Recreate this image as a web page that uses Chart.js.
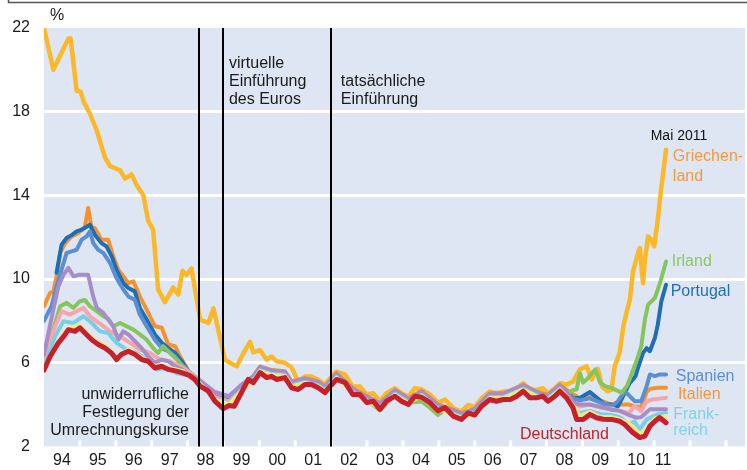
<!DOCTYPE html>
<html>
<head>
<meta charset="utf-8">
<script src="https://cdn.jsdelivr.net/npm/chart.js@4/dist/chart.umd.min.js"></script>
<style>
  body { margin: 0; background: #fff; }
  canvas { display: block; }
</style>
</head>
<body>
<canvas id="zinsen" width="747" height="470"></canvas>
<script>
// Rendite langfristiger Staatsanleihen in %, [Jahr, Wert]
const jahresLabels = ['94','95','96','97','98','99','00','01','02','03','04','05','06','07','08','09','10','11'];
const labelPos = [1994.5,1995.5,1996.5,1997.5,1998.5,1999.5,2000.5,2001.5,2002.5,2003.5,2004.5,2005.5,2006.5,2007.5,2008.5,2009.5,2010.5,2011.25];
const yTicks = [2, 6, 10, 14, 18, 22];
const ereignisse = [1998.33, 1999.0, 2002.0];

const deutschland = [[1994.0,5.65],[1994.17,6.3],[1994.4,6.95],[1994.55,7.26],[1994.68,7.58],[1994.86,7.5],[1995.0,7.67],[1995.14,7.42],[1995.33,7.1],[1995.51,6.87],[1995.7,6.7],[1995.88,6.47],[1996.02,6.15],[1996.16,6.4],[1996.35,6.55],[1996.53,6.4],[1996.72,6.15],[1996.9,6.07],[1997.09,5.75],[1997.28,5.83],[1997.46,5.68],[1997.7,5.6],[1997.88,5.5],[1998.05,5.4],[1998.2,5.2],[1998.35,4.88],[1998.58,4.64],[1998.76,4.16],[1998.99,3.8],[1999.15,3.95],[1999.3,3.92],[1999.5,4.57],[1999.69,5.2],[1999.83,5.05],[2000.02,5.53],[2000.2,5.29],[2000.34,5.35],[2000.48,5.2],[2000.71,5.29],[2000.9,4.8],[2001.08,4.72],[2001.27,4.96],[2001.45,4.96],[2001.64,4.8],[2001.83,4.57],[2001.97,4.88],[2002.15,5.2],[2002.39,5.05],[2002.6,4.48],[2002.8,4.48],[2002.99,4.1],[2003.17,4.16],[2003.36,3.77],[2003.54,4.16],[2003.78,4.4],[2003.96,4.16],[2004.15,4.0],[2004.33,4.4],[2004.52,4.35],[2004.75,4.1],[2004.98,3.7],[2005.17,3.86],[2005.4,3.45],[2005.63,3.29],[2005.82,3.6],[2006.0,3.5],[2006.19,3.92],[2006.42,4.24],[2006.6,4.16],[2006.8,4.24],[2006.99,4.24],[2007.17,4.4],[2007.35,4.64],[2007.54,4.32],[2007.72,4.32],[2007.9,4.4],[2008.04,4.16],[2008.23,4.4],[2008.37,4.64],[2008.56,4.32],[2008.74,3.84],[2008.84,3.29],[2009.02,3.29],[2009.21,3.53],[2009.39,3.37],[2009.58,3.3],[2009.81,3.29],[2010.04,3.2],[2010.18,3.05],[2010.4,2.67],[2010.6,2.42],[2010.74,2.49],[2010.88,2.97],[2011.02,3.2],[2011.15,3.38],[2011.33,3.13]];

const griechenland = [[1994.0,22.0],[1994.26,20.0],[1994.68,21.5],[1994.74,21.5],[1994.91,19.0],[1995.02,18.96],[1995.1,18.5],[1995.28,17.9],[1995.47,17.1],[1995.7,15.8],[1995.84,15.4],[1996.12,15.2],[1996.26,14.8],[1996.44,15.0],[1996.58,14.5],[1996.77,14.0],[1996.9,12.8],[1997.04,12.36],[1997.18,9.5],[1997.37,8.9],[1997.6,9.6],[1997.74,9.26],[1997.86,10.4],[1997.97,10.2],[1998.11,10.5],[1998.35,8.06],[1998.58,7.9],[1998.72,8.6],[1999.04,6.15],[1999.18,6.0],[1999.37,5.83],[1999.6,6.6],[1999.74,7.0],[1999.83,6.5],[2000.02,6.6],[2000.2,6.15],[2000.34,6.3],[2000.48,6.07],[2000.71,6.0],[2000.9,5.77],[2000.99,5.44],[2001.08,5.1],[2001.27,5.34],[2001.45,5.34],[2001.64,5.18],[2001.83,4.95],[2001.97,5.26],[2002.15,5.58],[2002.39,5.43],[2002.6,4.86],[2002.8,4.86],[2002.99,4.48],[2003.17,4.54],[2003.36,4.15],[2003.54,4.54],[2003.78,4.78],[2003.96,4.54],[2004.15,4.38],[2004.33,4.78],[2004.52,4.73],[2004.75,4.48],[2004.98,4.08],[2005.17,4.24],[2005.4,3.83],[2005.63,3.67],[2005.82,3.98],[2006.0,3.88],[2006.19,4.3],[2006.42,4.62],[2006.6,4.54],[2006.8,4.62],[2006.99,4.62],[2007.17,4.78],[2007.35,5.02],[2007.54,4.7],[2007.72,4.7],[2007.9,4.78],[2008.04,4.54],[2008.23,4.78],[2008.37,5.02],[2008.56,4.96],[2008.74,5.1],[2008.93,5.68],[2009.12,5.83],[2009.26,5.2],[2009.36,5.55],[2009.43,5.7],[2009.55,4.85],[2009.7,4.64],[2009.81,4.7],[2009.9,5.83],[2010.04,6.5],[2010.14,7.74],[2010.23,8.4],[2010.32,9.0],[2010.41,10.37],[2010.55,11.25],[2010.6,11.48],[2010.69,9.8],[2010.74,10.9],[2010.83,12.04],[2010.92,11.88],[2011.0,11.56],[2011.1,12.84],[2011.2,14.4],[2011.33,16.18]];

const italien = [[1994.0,8.7],[1994.17,9.34],[1994.26,9.4],[1994.35,10.13],[1994.45,11.25],[1994.59,11.72],[1994.77,12.04],[1994.96,12.2],[1995.14,12.5],[1995.23,13.4],[1995.32,12.5],[1995.42,12.43],[1995.6,11.88],[1995.79,11.88],[1995.93,11.08],[1996.07,10.45],[1996.21,10.13],[1996.35,9.8],[1996.49,9.89],[1996.67,9.17],[1996.86,8.54],[1997.09,7.74],[1997.28,7.67],[1997.46,6.87],[1997.65,6.79],[1997.84,6.15],[1998.02,5.6],[1998.35,5.15],[1998.76,4.46],[1999.15,4.25],[1999.5,4.87],[1999.83,5.35],[2000.02,5.83],[2000.34,5.65],[2000.71,5.59],[2000.9,5.1],[2001.27,5.26],[2001.64,5.1],[2001.83,4.87],[2002.15,5.5],[2002.6,4.78],[2002.99,4.4],[2003.36,4.07],[2003.78,4.7],[2004.15,4.3],[2004.52,4.65],[2004.98,4.0],[2005.4,3.75],[2005.63,3.59],[2006.0,3.8],[2006.42,4.54],[2006.8,4.54],[2007.35,4.94],[2007.72,4.62],[2008.04,4.46],[2008.37,4.94],[2008.56,4.7],[2008.74,4.5],[2008.93,4.3],[2009.21,4.4],[2009.49,4.2],[2009.81,4.0],[2010.04,4.0],[2010.3,4.0],[2010.45,3.9],[2010.64,3.9],[2010.79,4.6],[2010.88,4.75],[2011.1,4.8],[2011.33,4.8]];

const portugal = [[1994.35,10.3],[1994.49,11.64],[1994.63,11.96],[1994.77,12.1],[1994.91,12.28],[1995.05,12.36],[1995.19,12.5],[1995.28,12.6],[1995.42,12.1],[1995.6,11.72],[1995.74,11.56],[1995.89,11.08],[1996.02,10.45],[1996.21,9.8],[1996.35,9.57],[1996.53,9.41],[1996.67,8.62],[1996.86,8.06],[1997.09,7.35],[1997.28,6.95],[1997.46,6.7],[1997.65,6.47],[1997.84,6.07],[1998.02,5.6],[1998.25,5.23],[1998.53,4.8],[1998.76,4.38],[1999.15,4.17],[1999.5,4.79],[1999.83,5.27],[2000.02,5.75],[2000.34,5.57],[2000.71,5.51],[2000.9,5.02],[2001.27,5.18],[2001.64,5.02],[2001.83,4.79],[2002.15,5.42],[2002.6,4.7],[2002.99,4.32],[2003.36,3.99],[2003.78,4.62],[2004.15,4.22],[2004.52,4.57],[2004.98,3.92],[2005.4,3.67],[2005.63,3.51],[2006.0,3.72],[2006.42,4.46],[2006.8,4.46],[2007.35,4.86],[2007.72,4.54],[2008.04,4.38],[2008.37,4.86],[2008.56,4.6],[2008.74,4.3],[2008.93,4.32],[2009.21,4.6],[2009.49,4.2],[2009.63,4.0],[2009.81,4.0],[2009.99,3.92],[2010.18,4.56],[2010.32,5.04],[2010.41,5.2],[2010.48,5.36],[2010.55,5.76],[2010.69,6.47],[2010.79,6.7],[2010.88,6.55],[2011.02,7.19],[2011.1,7.82],[2011.2,8.94],[2011.33,9.73]];

const spanien = [[1994.0,8.0],[1994.21,8.7],[1994.35,9.65],[1994.49,10.45],[1994.63,11.25],[1994.77,11.32],[1994.91,11.4],[1995.05,11.88],[1995.19,12.04],[1995.28,12.28],[1995.37,11.72],[1995.51,11.4],[1995.65,11.25],[1995.84,10.77],[1996.02,10.05],[1996.21,9.5],[1996.35,9.17],[1996.53,9.0],[1996.67,8.3],[1996.86,7.74],[1997.09,7.1],[1997.28,6.7],[1997.46,6.55],[1997.65,6.3],[1997.84,5.9],[1998.02,5.45],[1998.35,5.06],[1998.76,4.34],[1999.15,4.13],[1999.5,4.75],[1999.83,5.23],[2000.02,5.71],[2000.34,5.53],[2000.71,5.47],[2000.9,4.98],[2001.27,5.14],[2001.64,4.98],[2001.83,4.75],[2002.15,5.38],[2002.6,4.66],[2002.99,4.28],[2003.36,3.95],[2003.78,4.58],[2004.15,4.18],[2004.52,4.53],[2004.98,3.88],[2005.4,3.63],[2005.63,3.47],[2006.0,3.68],[2006.42,4.42],[2006.8,4.42],[2007.35,4.82],[2007.72,4.5],[2008.04,4.34],[2008.37,4.82],[2008.56,4.55],[2008.74,4.3],[2008.93,4.2],[2009.21,4.3],[2009.49,4.1],[2009.81,3.92],[2009.99,4.16],[2010.18,4.64],[2010.32,4.4],[2010.46,4.16],[2010.64,4.16],[2010.79,4.88],[2010.88,5.44],[2011.02,5.36],[2011.16,5.44],[2011.33,5.44]];

const irland = [[1994.0,6.3],[1994.17,7.1],[1994.45,8.7],[1994.63,8.86],[1994.82,8.62],[1995.0,8.94],[1995.14,9.0],[1995.28,8.7],[1995.47,8.46],[1995.65,8.22],[1995.79,8.1],[1995.93,7.74],[1996.12,7.9],[1996.3,7.74],[1996.49,7.58],[1996.67,7.35],[1996.86,7.1],[1997.04,6.7],[1997.18,6.47],[1997.32,6.79],[1997.51,6.47],[1997.7,6.15],[1997.88,5.83],[1998.05,5.55],[1998.35,5.08],[1998.76,4.28],[1999.15,4.07],[1999.5,4.69],[1999.83,5.17],[2000.02,5.65],[2000.34,5.47],[2000.71,5.41],[2000.9,4.92],[2001.27,5.08],[2001.64,4.92],[2001.83,4.69],[2002.15,5.32],[2002.6,4.6],[2002.99,4.22],[2003.36,3.72],[2003.78,4.5],[2004.15,4.1],[2004.52,4.15],[2004.75,3.85],[2004.98,3.5],[2005.17,3.75],[2005.4,3.45],[2005.63,3.38],[2006.0,3.6],[2006.42,4.35],[2006.8,4.35],[2007.35,4.76],[2007.72,4.44],[2008.04,4.28],[2008.37,4.76],[2008.56,4.5],[2008.74,4.7],[2008.84,4.72],[2008.93,5.5],[2009.02,5.05],[2009.12,5.2],[2009.36,5.68],[2009.49,5.05],[2009.63,4.88],[2009.81,4.8],[2010.09,4.57],[2010.25,4.9],[2010.4,5.6],[2010.55,6.3],[2010.64,6.79],[2010.74,8.06],[2010.83,8.78],[2011.02,9.1],[2011.16,9.8],[2011.33,10.84]];

const belgien = [[1994.0,6.2],[1994.31,7.74],[1994.49,8.46],[1994.72,8.3],[1994.91,8.46],[1995.1,8.62],[1995.28,8.22],[1995.47,7.98],[1995.6,7.82],[1995.84,7.5],[1996.12,7.26],[1996.4,6.95],[1996.67,6.63],[1996.95,6.47],[1997.23,6.15],[1997.51,6.07],[1997.79,5.83],[1998.05,5.55],[1998.35,5.1],[1998.76,4.36],[1999.15,4.15],[1999.5,4.77],[1999.83,5.25],[2000.02,5.73],[2000.34,5.55],[2000.71,5.49],[2000.9,5.0],[2001.27,5.16],[2001.64,5.0],[2001.83,4.77],[2002.15,5.4],[2002.6,4.68],[2002.99,4.3],[2003.36,3.97],[2003.78,4.6],[2004.15,4.2],[2004.52,4.55],[2004.98,3.9],[2005.4,3.65],[2005.63,3.49],[2006.0,3.7],[2006.42,4.44],[2006.8,4.44],[2007.35,4.84],[2007.72,4.52],[2008.04,4.36],[2008.37,4.84],[2008.56,4.52],[2008.74,4.1],[2008.93,3.9],[2009.21,4.0],[2009.49,3.85],[2009.81,3.8],[2010.04,3.7],[2010.3,3.6],[2010.45,3.92],[2010.64,3.69],[2010.79,4.16],[2010.95,4.24],[2011.33,4.32]];

const finnland = [[1994.0,6.4],[1994.26,8.54],[1994.4,9.65],[1994.54,10.2],[1994.68,10.53],[1994.82,10.13],[1994.96,10.2],[1995.23,10.2],[1995.37,9.17],[1995.47,8.62],[1995.65,8.38],[1995.79,8.06],[1995.93,7.74],[1996.07,7.1],[1996.21,7.5],[1996.35,7.35],[1996.53,7.03],[1996.72,6.7],[1996.9,6.3],[1997.09,6.0],[1997.28,6.15],[1997.46,6.07],[1997.65,5.83],[1997.84,5.68],[1998.02,5.44],[1998.35,5.15],[1998.76,4.6],[1999.15,4.4],[1999.5,4.95],[1999.83,5.35],[2000.02,5.8],[2000.34,5.63],[2000.71,5.57],[2000.9,5.08],[2001.27,5.24],[2001.64,5.08],[2001.83,4.85],[2002.15,5.48],[2002.6,4.76],[2002.99,4.38],[2003.36,4.05],[2003.78,4.68],[2004.15,4.28],[2004.52,4.63],[2004.98,3.98],[2005.4,3.73],[2005.63,3.57],[2006.0,3.78],[2006.42,4.52],[2006.8,4.52],[2007.35,4.92],[2007.72,4.6],[2008.04,4.44],[2008.37,4.92],[2008.56,4.6],[2008.74,4.1],[2008.93,4.0],[2009.21,4.0],[2009.49,3.9],[2009.81,3.75],[2010.04,3.7],[2010.3,3.5],[2010.5,3.37],[2010.64,3.4],[2010.88,3.77],[2011.33,3.77]];

const frankreich = [[1994.0,5.8],[1994.31,7.26],[1994.54,7.98],[1994.82,7.9],[1995.1,8.22],[1995.33,7.9],[1995.56,7.5],[1995.79,7.42],[1996.02,6.95],[1996.3,6.63],[1996.58,6.47],[1996.86,6.15],[1997.14,5.68],[1997.42,5.75],[1997.7,5.5],[1998.0,5.4],[1998.35,5.0],[1998.76,4.28],[1999.15,4.07],[1999.5,4.69],[1999.83,5.17],[2000.02,5.65],[2000.34,5.47],[2000.71,5.41],[2000.9,4.92],[2001.27,5.08],[2001.64,4.92],[2001.83,4.69],[2002.15,5.32],[2002.6,4.6],[2002.99,4.22],[2003.36,3.89],[2003.78,4.52],[2004.15,4.12],[2004.52,4.47],[2004.98,3.82],[2005.4,3.57],[2005.63,3.41],[2006.0,3.62],[2006.42,4.36],[2006.8,4.36],[2007.35,4.76],[2007.72,4.44],[2008.04,4.28],[2008.37,4.76],[2008.56,4.4],[2008.74,3.8],[2008.93,3.6],[2009.21,3.7],[2009.49,3.55],[2009.81,3.5],[2010.04,3.4],[2010.3,3.05],[2010.45,3.2],[2010.6,2.8],[2010.79,3.29],[2011.1,3.53],[2011.33,3.6]];

const niederlande = [[1994.0,5.75],[1994.4,7.05],[1994.68,7.68],[1995.0,7.77],[1995.33,7.2],[1995.7,6.8],[1996.02,6.25],[1996.35,6.65],[1996.72,6.25],[1997.09,5.85],[1997.46,5.78],[1997.88,5.6],[1998.35,4.98],[1998.76,4.23],[1999.15,4.02],[1999.5,4.64],[1999.83,5.12],[2000.02,5.6],[2000.34,5.42],[2000.71,5.36],[2000.9,4.87],[2001.27,5.03],[2001.64,4.87],[2001.83,4.64],[2002.15,5.27],[2002.6,4.55],[2002.99,4.17],[2003.36,3.84],[2003.78,4.47],[2004.15,4.07],[2004.52,4.42],[2004.98,3.77],[2005.4,3.52],[2005.63,3.36],[2006.0,3.57],[2006.42,4.31],[2006.8,4.31],[2007.35,4.71],[2007.72,4.39],[2008.04,4.23],[2008.37,4.71],[2008.56,4.38],[2008.74,3.95],[2008.93,3.45],[2009.21,3.65],[2009.49,3.4],[2009.81,3.4],[2010.04,3.3],[2010.3,3.1],[2010.6,2.6],[2010.79,2.85],[2011.02,3.35],[2011.33,3.45]];

// Reihenfolge: erster Datensatz liegt oben
const reihen = [
  { name: 'Deutschland', werte: deutschland, farbe: '#c5202b', breite: 5 },
  { name: 'Niederlande', werte: niederlande, farbe: '#f1e88a', breite: 4 },
  { name: 'Frankreich', werte: frankreich, farbe: '#78d0e3', breite: 4 },
  { name: 'Finnland', werte: finnland, farbe: '#a68dc7', breite: 4 },
  { name: 'Belgien', werte: belgien, farbe: '#f5a5ab', breite: 4 },
  { name: 'Irland', werte: irland, farbe: '#86c55c', breite: 4 },
  { name: 'Spanien', werte: spanien, farbe: '#5b8fd0', breite: 4 },
  { name: 'Portugal', werte: portugal, farbe: '#1f6eb5', breite: 4 },
  { name: 'Italien', werte: italien, farbe: '#f5922f', breite: 4 },
  { name: 'Griechenland', werte: griechenland, farbe: '#fbb829', breite: 4.5 }
];

const texte = [
  { zeilen: ['%'], x: 1994.17, y: 22.6, farbe: '#1a1a1a', align: 'left', abstand: 18, groesse: 16 },
  { zeilen: ['virtuelle', 'Einführung', 'des Euros'], x: 1999.153, y: 20.28, farbe: '#1a1a1a', align: 'left', abstand: 18, groesse: 16 },
  { zeilen: ['tatsächliche', 'Einführung'], x: 2002.27, y: 19.44, farbe: '#1a1a1a', align: 'left', abstand: 18, groesse: 16 },
  { zeilen: ['unwiderrufliche', 'Festlegung der', 'Umrechnungskurse'], x: 1998.04, y: 4.48, farbe: '#1a1a1a', align: 'right', abstand: 18, groesse: 16 },
  { zeilen: ['Mai 2011'], x: 2011.69, y: 16.85, farbe: '#111', align: 'center', abstand: 16, groesse: 14 },
  { zeilen: ['Griechen-', 'land'], x: 2011.52, y: 15.84, farbe: '#f39a3d', align: 'left', abstand: 20, groesse: 16 },
  { zeilen: ['Irland'], x: 2011.49, y: 10.83, farbe: '#8cc864', align: 'left', abstand: 16, groesse: 16 },
  { zeilen: ['Portugal'], x: 2011.46, y: 9.4, farbe: '#1d70b7', align: 'left', abstand: 16, groesse: 16 },
  { zeilen: ['Spanien'], x: 2011.6, y: 5.34, farbe: '#5b8fd0', align: 'left', abstand: 16, groesse: 16 },
  { zeilen: ['Italien'], x: 2011.66, y: 4.5, farbe: '#f6953a', align: 'left', abstand: 16, groesse: 16 },
  { zeilen: ['Frank-', 'reich'], x: 2011.53, y: 3.53, farbe: '#7fd3e6', align: 'left', abstand: 16, groesse: 16 },
  { zeilen: ['Deutschland'], x: 2007.26, y: 2.57, farbe: '#c42128', align: 'left', abstand: 16, groesse: 16 }
];

const schrift = '"Liberation Sans", Arial, sans-serif';

const deko = {
  id: 'deko',
  beforeDraw(chart) {
    const { ctx, chartArea: a } = chart;
    ctx.save();
    ctx.fillStyle = '#dfe6f3';
    ctx.fillRect(a.left, a.top, a.right - a.left, a.bottom - a.top);
    ctx.restore();
  },
  beforeDatasetsDraw(chart) {
    const { ctx, chartArea: a, scales: { x } } = chart;
    ctx.save();
    ctx.strokeStyle = '#fff';
    ctx.lineWidth = 3;
    for (let j = 1995; j <= 2013; j++) {
      const px = x.getPixelForValue(j);
      ctx.beginPath();
      ctx.moveTo(px, a.bottom);
      ctx.lineTo(px, a.bottom - 6);
      ctx.stroke();
    }
    ctx.restore();
  },
  afterDatasetsDraw(chart) {
    const { ctx, chartArea: a, scales: { x, y } } = chart;
    ctx.save();
    ctx.strokeStyle = '#000';
    ctx.lineWidth = 2;
    ereignisse.forEach(t => {
      const px = Math.round(x.getPixelForValue(t));
      ctx.beginPath();
      ctx.moveTo(px, a.top);
      ctx.lineTo(px, a.bottom);
      ctx.stroke();
    });
    ctx.textBaseline = 'middle';
    texte.forEach(t => {
      ctx.font = t.groesse + 'px ' + schrift;
      ctx.fillStyle = t.farbe;
      ctx.textAlign = t.align;
      const px = x.getPixelForValue(t.x);
      const py = y.getPixelForValue(t.y);
      t.zeilen.forEach((z, i) => ctx.fillText(z, px, py + i * t.abstand));
    });
    ctx.restore();
  },
  afterDraw(chart) {
    const { ctx } = chart;
    ctx.save();
    ctx.strokeStyle = '#555';
    ctx.lineWidth = 1.5;
    ctx.beginPath();
    ctx.moveTo(8.5, 0);
    ctx.lineTo(8.5, 2.5);
    ctx.lineTo(747, 2.5);
    ctx.stroke();
    ctx.restore();
  }
};

new Chart(document.getElementById('zinsen'), {
  type: 'line',
  data: {
    datasets: reihen.map(r => ({
      label: r.name,
      data: r.werte.map(([t, v]) => ({ x: t, y: v })),
      borderColor: r.farbe,
      borderWidth: r.breite,
      pointRadius: 0,
      tension: 0,
      borderJoinStyle: 'round',
      borderCapStyle: 'round',
      fill: false
    }))
  },
  options: {
    responsive: false,
    animation: false,
    devicePixelRatio: 1,
    layout: { padding: { top: 28, right: 2, left: 0, bottom: 0 } },
    plugins: { legend: { display: false }, tooltip: { enabled: false } },
    scales: {
      x: {
        type: 'linear',
        min: 1994,
        max: 2013.53,
        afterBuildTicks: s => { s.ticks = labelPos.map(v => ({ value: v })); },
        afterFit: s => { s.height = 23; },
        grid: { display: false, drawTicks: false },
        border: { display: false },
        ticks: {
          autoSkip: false,
          maxRotation: 0,
          padding: 5,
          color: '#1a1a1a',
          font: { family: schrift, size: 16 },
          callback: (v, i) => jahresLabels[i]
        }
      },
      y: {
        min: 2,
        max: 22,
        afterBuildTicks: s => { s.ticks = yTicks.map(v => ({ value: v })); },
        afterFit: s => { s.width = 44; },
        border: { display: false },
        grid: {
          drawTicks: false,
          lineWidth: 3,
          color: c => (c.tick && c.tick.value > 2 && c.tick.value < 22) ? '#ffffff' : 'rgba(0,0,0,0)'
        },
        ticks: {
          padding: 14,
          color: '#1a1a1a',
          font: { family: schrift, size: 16 }
        }
      }
    }
  },
  plugins: [deko]
});
</script>
</body>
</html>
